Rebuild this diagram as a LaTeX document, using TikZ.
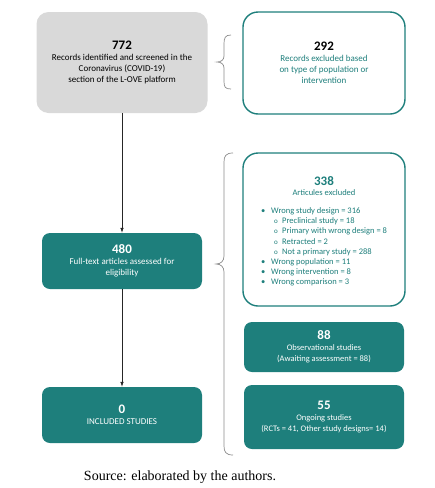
\documentclass[tikz,border=0pt]{standalone}
\usepackage{fontspec}
\setmainfont{Carlito}
\newfontfamily\capfont{Liberation Serif}
\usetikzlibrary{arrows.meta}
\definecolor{myteal}{HTML}{1E7F7C}
\definecolor{mygray}{HTML}{D9D9D9}
\definecolor{bracegray}{HTML}{8C8C8C}
\tikzset{
  graybox/.style={draw=none, fill=mygray, rounded corners=12pt, align=center, font=\fontsize{9}{11}\selectfont, inner sep=0pt},
  outbox/.style={draw=myteal, line width=1.4pt, fill=white, rounded corners=15pt, align=center, text=myteal, font=\fontsize{9}{11}\selectfont, inner sep=0pt},
  tealbox/.style={draw=none, fill=myteal, rounded corners=8pt, align=center, text=white, font=\fontsize{9}{11}\selectfont, inner sep=0pt},
  smalltext/.style={font=\fontsize{8.5}{11}\selectfont},
  conn/.style={draw=black!85, line width=0.6pt, -{Latex[length=5pt,width=3.5pt]}},
  bracestyle/.style={draw=bracegray, line width=0.7pt}
}
\newcommand{\bignum}[1]{{\fontsize{13}{13}\selectfont\bfseries #1}}
\begin{document}
\begin{tikzpicture}[x=1pt,y=-1pt]
\useasboundingbox (0,0) rectangle (435,488);
% boxes
\node[graybox, minimum width=171pt, minimum height=101pt] (n772) at (122,62.5)
  {\bignum{772}\\[0pt]Records identified and screened in the\\Coronavirus (COVID-19)\\section of the L-OVE platform};
\node[outbox, minimum width=162pt, minimum height=102pt] (n292) at (324,63)
  {{\color{black}\bignum{292}}\\[0pt]Records excluded based\\on type of population or\\intervention};
\node[outbox, minimum width=162pt, minimum height=153pt] (n338) at (324,229.5) {};
\node[align=center, text=myteal, smalltext, inner sep=0pt] (t338) at (324,186)
  {\bignum{338}\\[-0.5pt]Articules excluded};
\node[anchor=north west, align=left, text=myteal, font=\fontsize{8.5}{10.14}\selectfont, inner sep=0pt] (l338) at (261,207.5)
  {\makebox[10pt][l]{•}Wrong study design = 316\\
   \hspace{13pt}\makebox[8pt][l]{\scriptsize o}Preclinical study = 18\\
   \hspace{13pt}\makebox[8pt][l]{\scriptsize o}Primary with wrong design = 8\\
   \hspace{13pt}\makebox[8pt][l]{\scriptsize o}Retracted = 2\\
   \hspace{13pt}\makebox[8pt][l]{\scriptsize o}Not a primary study = 288\\
   \makebox[10pt][l]{•}Wrong population = 11\\
   \makebox[10pt][l]{•}Wrong intervention = 8\\
   \makebox[10pt][l]{•}Wrong comparison = 3};
\node[tealbox, minimum width=160pt, minimum height=56pt] (n480) at (122,261)
  {\bignum{480}\\[0pt]Full-text articles assessed for\\eligibility};
\node[tealbox, minimum width=160pt, minimum height=56pt] (n0) at (122,415)
  {\bignum{0}\\[0pt]INCLUDED STUDIES};
\node[tealbox, smalltext, minimum width=160pt, minimum height=50pt] (n88) at (324,347)
  {\bignum{88}\\[0pt]Observational studies\\(Awaiting assessment = 88)};
\node[tealbox, smalltext, minimum width=160pt, minimum height=64pt] (n55) at (324,417)
  {\bignum{55}\\[0pt]Ongoing studies\\(RCTs = 41, Other study designs= 14)};
% connectors
\draw[conn] (n772) -- (n480);
\draw[conn] (n480) -- (n0);
% braces
\draw[bracestyle] (231,35) .. controls (225,35) and (224,38) .. (224,44) -- (224,56)
  .. controls (224,60) and (221,62) .. (217,62)
  .. controls (221,62) and (224,64) .. (224,68) -- (224,81)
  .. controls (224,87) and (225,89) .. (231,89);
\draw[bracestyle] (233,153) .. controls (226,153) and (224,156) .. (224,162) -- (224,256)
  .. controls (224,261) and (221,264) .. (216,264)
  .. controls (221,264) and (224,267) .. (224,272) -- (224,446)
  .. controls (224,452) and (226,455) .. (233,455);
% caption
\node[font=\capfont\fontsize{14}{16}\selectfont, inner sep=0pt] (cap) at (180,477) {Source: elaborated by the authors.};
\end{tikzpicture}
\end{document}
